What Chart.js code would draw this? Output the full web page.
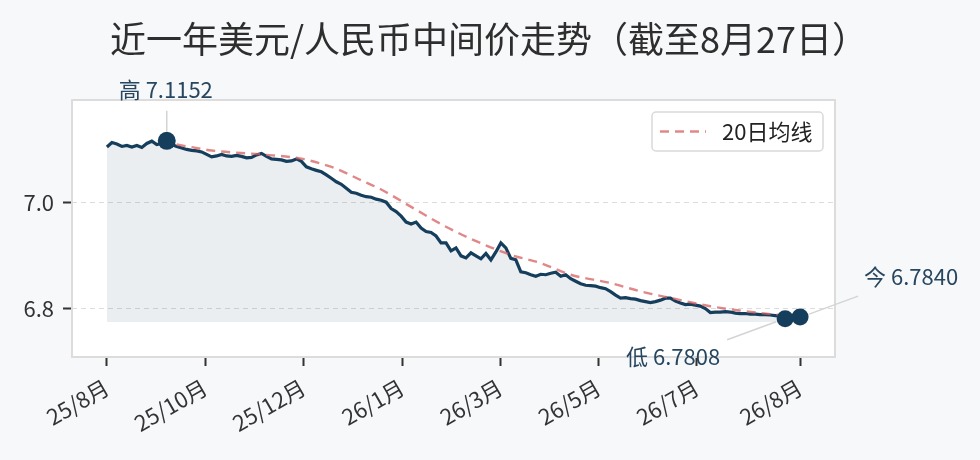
<!DOCTYPE html>
<html lang="zh-CN">
<head>
<meta charset="utf-8">
<title>近一年美元/人民币中间价走势</title>
<script src="https://cdn.jsdelivr.net/npm/chart.js@4.4.1/dist/chart.umd.min.js"></script>
<style>
  html, body { margin: 0; padding: 0; background: #f7f8fa; }
</style>
</head>
<body>
<canvas id="chart" width="980" height="460"></canvas>
<script>
// USD/CNY central parity (one point per ~2 trading days)
const fixValues = [
  7.1037, 7.1121, 7.1093, 7.1047, 7.1065, 7.1037, 7.1065, 7.1028, 7.1103, 7.1146,
  7.1084, 7.1103, 7.1152, 7.1084, 7.1047, 7.1019, 7.0991, 7.0972, 7.0963, 7.0944,
  7.0897, 7.0850, 7.0869, 7.0897, 7.0869, 7.0860, 7.0879, 7.0860, 7.0832, 7.0841,
  7.0888, 7.0916, 7.0860, 7.0813, 7.0804, 7.0794, 7.0766, 7.0776, 7.0813, 7.0766,
  7.0664, 7.0626, 7.0598, 7.0570, 7.0514, 7.0449, 7.0383, 7.0336, 7.0262, 7.0187,
  7.0168, 7.0131, 7.0103, 7.0093, 7.0056, 7.0037, 7.0000, 6.9879, 6.9822, 6.9738,
  6.9626, 6.9589, 6.9626, 6.9514, 6.9449, 6.9430, 6.9364, 6.9234, 6.9234, 6.9084,
  6.9140, 6.8991, 6.8953, 6.9047, 6.8991, 6.8935, 6.9037, 6.8916, 6.9065, 6.9234,
  6.9140, 6.8944, 6.8916, 6.8692, 6.8673, 6.8636, 6.8607, 6.8645, 6.8636, 6.8664,
  6.8682, 6.8607, 6.8636, 6.8561, 6.8514, 6.8467, 6.8439, 6.8430, 6.8421, 6.8393,
  6.8374, 6.8318, 6.8252, 6.8196, 6.8206, 6.8187, 6.8178, 6.8150, 6.8131, 6.8112,
  6.8131, 6.8159, 6.8196, 6.8196, 6.8140, 6.8103, 6.8075, 6.8084, 6.8065, 6.8047,
  6.8000, 6.7925, 6.7935, 6.7935, 6.7944, 6.7935, 6.7916, 6.7907, 6.7907, 6.7897,
  6.7897, 6.7888, 6.7888, 6.7879, 6.7869, 6.7850, 6.7808, 6.7822, 6.7832, 6.7840
];

// 20-day moving average, sampled from the dashed line
const maIdx = [14, 21, 31, 39, 44, 46, 51, 55, 61, 68, 75, 81, 87, 93, 101, 107, 114, 121, 128, 134, 139];
const maValues = [7.1084, 7.0972, 7.0897, 7.0817, 7.0692, 7.0630, 7.0411, 7.0237, 6.9912, 6.9538,
                  6.9228, 6.9009, 6.8854, 6.8636, 6.8480, 6.8323, 6.8181, 6.8043, 6.7950, 6.7888, 6.7850];

const tickIdx = [0, 19.7, 39.4, 59.2, 78.9, 98.6, 118.3, 139];
const tickLabels = ['25/8月', '25/10月', '25/12月', '26/1月', '26/3月', '26/5月', '26/7月', '26/8月'];
const yTicks = [6.8, 7.0];
const fillBase = 6.775;

const TITLE = '近一年美元/人民币中间价走势（截至8月27日）';
const MA_LABEL = '20日均线';

const FONT = "'Noto Sans CJK SC', 'Noto Sans', sans-serif";
const NAVY = '#153d5c';
const MA_RED = 'rgba(214, 96, 96, 0.75)';
const NOTE = '#27465f';
const LEADER = '#d4d4d4';

const hiIdx = fixValues.indexOf(Math.max(...fixValues));
const loIdx = fixValues.indexOf(Math.min(...fixValues));
const lastIdx = fixValues.length - 1;
const markIdx = [hiIdx, loIdx, lastIdx];

// frame, title, legend and the three callouts
const decor = {
  id: 'decor',
  beforeDraw(chart) {
    const { ctx, chartArea: a } = chart;
    ctx.save();
    ctx.fillStyle = '#f7f8fa';
    ctx.fillRect(0, 0, chart.width, chart.height);
    ctx.fillStyle = '#ffffff';
    ctx.fillRect(a.left, a.top, a.right - a.left, a.bottom - a.top);
    ctx.restore();
  },
  afterDatasetsDraw(chart) {
    const { ctx, chartArea: a, scales: { x, y } } = chart;
    ctx.save();
    // frame
    ctx.strokeStyle = '#dcdcdc';
    ctx.lineWidth = 2;
    ctx.strokeRect(a.left, a.top, a.right - a.left, a.bottom - a.top);

    // callouts
    const pt = i => ({ px: x.getPixelForValue(i), py: y.getPixelForValue(fixValues[i]) });
    const hi = pt(hiIdx), lo = pt(loIdx), now = pt(lastIdx);
    ctx.strokeStyle = LEADER;
    ctx.lineWidth = 1.5;
    ctx.beginPath();
    ctx.moveTo(hi.px, hi.py - 9); ctx.lineTo(hi.px, hi.py - 30);
    ctx.moveTo(lo.px - 9, lo.py + 3); ctx.lineTo(lo.px - 58, lo.py + 21);
    ctx.moveTo(now.px + 9, now.py - 3); ctx.lineTo(now.px + 58, now.py - 21);
    ctx.stroke();

    ctx.font = `22px ${FONT}`;
    ctx.fillStyle = NOTE;
    ctx.textAlign = 'center';
    ctx.textBaseline = 'middle';
    ctx.fillText('高 ' + fixValues[hiIdx].toFixed(4), hi.px - 1, hi.py - 51);
    ctx.fillText('低 ' + fixValues[loIdx].toFixed(4), lo.px - 112, lo.py + 38);
    ctx.fillText('今 ' + fixValues[lastIdx].toFixed(4), now.px + 111, now.py - 40);

    // legend
    const bx = a.right - 183, by = a.top + 12, bw = 171, bh = 39;
    ctx.beginPath();
    ctx.roundRect(bx, by, bw, bh, 4);
    ctx.fillStyle = 'rgba(255,255,255,0.9)';
    ctx.fill();
    ctx.strokeStyle = '#d9d9d9';
    ctx.lineWidth = 1.5;
    ctx.stroke();
    ctx.beginPath();
    ctx.setLineDash([9, 6]);
    ctx.strokeStyle = MA_RED;
    ctx.lineWidth = 2.4;
    ctx.moveTo(bx + 8, by + bh / 2);
    ctx.lineTo(bx + 54, by + bh / 2);
    ctx.stroke();
    ctx.setLineDash([]);
    ctx.font = `22px ${FONT}`;
    ctx.fillStyle = '#222';
    ctx.textAlign = 'left';
    ctx.fillText(MA_LABEL, bx + 70, by + bh / 2);

    // title
    ctx.font = `36px ${FONT}`;
    ctx.fillStyle = '#2e2e2e';
    ctx.textAlign = 'center';
    ctx.fillText(TITLE, 489, 39);
    ctx.restore();
  }
};

new Chart(document.getElementById('chart'), {
  type: 'line',
  data: {
    datasets: [
      {
        label: '中间价',
        data: fixValues.map((v, i) => ({ x: i, y: v })),
        borderColor: NAVY,
        borderWidth: 3.2,
        pointRadius: 0,
        tension: 0,
        fill: { value: fillBase },
        backgroundColor: 'rgba(23, 63, 95, 0.085)',
        order: 2
      },
      {
        label: MA_LABEL,
        data: maIdx.map((v, k) => ({ x: v, y: maValues[k] })),
        borderColor: MA_RED,
        borderWidth: 2.4,
        borderDash: [9, 6],
        pointRadius: 0,
        cubicInterpolationMode: 'monotone',
        fill: false,
        order: 1
      },
      {
        label: 'marks',
        data: markIdx.map(i => ({ x: i, y: fixValues[i] })),
        showLine: false,
        pointRadius: [9, 8.5, 8.5],
        pointBackgroundColor: NAVY,
        pointBorderWidth: 0,
        clip: false,
        order: 0
      }
    ]
  },
  options: {
    responsive: false,
    animation: false,
    layout: { padding: { top: 100, right: 145, bottom: 0, left: 0 } },
    plugins: {
      legend: { display: false },
      title: { display: false },
      tooltip: { enabled: false }
    },
    scales: {
      x: {
        type: 'linear',
        min: -7.0,
        max: 146.0,
        afterFit: axis => { axis.height = 103; },
        afterBuildTicks: axis => { axis.ticks = tickIdx.map(v => ({ value: v })); },
        grid: {
          drawOnChartArea: false,
          drawTicks: true,
          tickLength: 9,
          tickColor: '#333',
          tickWidth: 2,
          tickBorderDash: []
        },
        border: { display: false },
        ticks: {
          autoSkip: false,
          maxRotation: 30,
          minRotation: 30,
          padding: 8,
          color: '#333',
          font: { family: FONT, size: 22 },
          callback: (v, i) => tickLabels[i]
        }
      },
      y: {
        min: 6.709,
        max: 7.192,
        afterFit: axis => { axis.width = 72; },
        afterBuildTicks: axis => { axis.ticks = yTicks.map(v => ({ value: v })); },
        grid: {
          color: '#dcdcdc',
          lineWidth: 1,
          drawTicks: true,
          tickLength: 9,
          tickColor: '#333',
          tickWidth: 2,
          tickBorderDash: []
        },
        border: { display: false, dash: [5, 4] },
        ticks: {
          padding: 9,
          color: '#333',
          font: { family: FONT, size: 22 },
          callback: v => v.toFixed(1)
        }
      }
    }
  },
  plugins: [decor]
});
</script>
</body>
</html>
